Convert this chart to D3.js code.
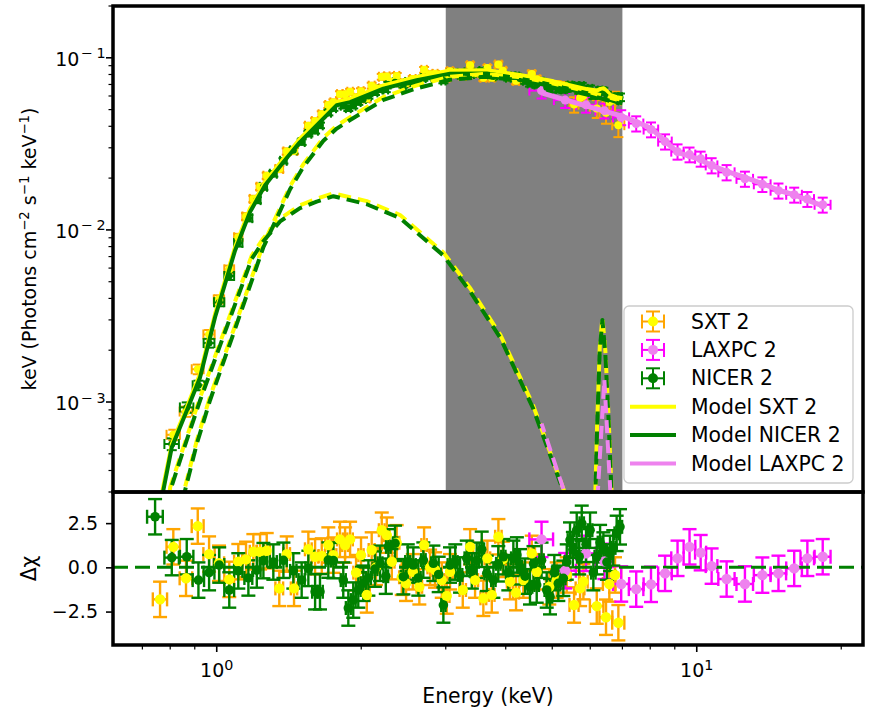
<!DOCTYPE html>
<html lang="en">
<head>
    <meta charset="UTF-8">
    <title>Spectrum with residuals</title>
    <script src="https://d3js.org/d3.v7.min.js"></script>
    <style>
        body {
            margin: 0;
            background-color: #ffffff;
        }
        svg text {
            font-family: 'DejaVu Sans', sans-serif;
            fill: #000000;
        }
    </style>
</head>
<body>
    <svg id="chart" width="872" height="710"></svg>
    <script>
        // ---- SXT data (keV, photons cm^-2 s^-1 keV^-1 x keV, delta chi) ----
        const sxtEnergy = [0.762, 0.812, 0.863, 0.913, 0.964, 1.011, 1.062, 1.109, 1.151, 1.192,
            1.231, 1.271, 1.35, 1.399, 1.449, 1.552, 1.603, 1.655, 1.708, 1.75,
            1.806, 1.851, 1.896, 1.951, 1.998, 2.054, 2.103, 2.147, 2.207, 2.261,
            2.316, 2.371, 2.429, 2.48, 2.561, 2.643, 2.704, 2.783, 2.85, 2.943,
            3.014, 3.062, 3.255, 3.372, 3.453, 3.593, 3.663, 3.741, 3.862, 3.944,
            4.083, 4.203, 4.353, 4.532, 4.641, 4.93, 5.108, 5.359, 5.552, 5.714,
            5.806, 6.19, 6.471, 6.575, 6.757, 6.866];
        const sxtEnergyErr = [0.026, 0.026, 0.026, 0.026, 0.026, 0.025, 0.025, 0.022, 0.02, 0.02,
            0.02, 0.02, 0.025, 0.022, 0.022, 0.025, 0.025, 0.025, 0.025, 0.025,
            0.025, 0.025, 0.025, 0.025, 0.025, 0.03, 0.03, 0.03, 0.03, 0.03,
            0.03, 0.03, 0.03, 0.03, 0.035, 0.035, 0.035, 0.035, 0.035, 0.04,
            0.04, 0.04, 0.05, 0.05, 0.05, 0.05, 0.05, 0.05, 0.06, 0.06,
            0.06, 0.06, 0.07, 0.07, 0.07, 0.08, 0.08, 0.1, 0.12, 0.12,
            0.12, 0.2, 0.2, 0.2, 0.2, 0.2];
        const sxtFlux = [2.4e-4, 6.45e-4, 8.8e-4, 1.55e-3, 2.47e-3, 3.95e-3, 5.9e-3, 9.06e-3, 0.01197, 0.01514,
            0.01782, 0.02065, 0.0226, 0.02857, 0.02877, 0.0403, 0.0429, 0.047, 0.0532, 0.0551,
            0.0615, 0.0614, 0.0635, 0.0589, 0.064, 0.058, 0.0689, 0.0665, 0.0776, 0.078,
            0.0726, 0.0785, 0.0713, 0.0711, 0.0753, 0.0731, 0.0851, 0.0803, 0.0807, 0.0794,
            0.0767, 0.0836, 0.0787, 0.0906, 0.0813, 0.0766, 0.0873, 0.0767, 0.0914, 0.0841,
            0.0773, 0.0735, 0.0753, 0.0804, 0.075, 0.0687, 0.0695, 0.0684, 0.0535, 0.0585,
            0.060, 0.0507, 0.0479, 0.0553, 0.0565, 0.0406];
        const sxtFluxErr = [2e-5, 4.5e-5, 6e-5, 1e-4, 1.5e-4, 2.2e-4, 3e-4, 4.3e-4, 5.5e-4, 6.5e-4,
            7.5e-4, 8.5e-4, 9.5e-4, 0.0012, 0.0012, 0.0016, 0.0017, 0.0019, 0.0021, 0.0022,
            0.0024, 0.0024, 0.0025, 0.0024, 0.0025, 0.0024, 0.0027, 0.0027, 0.003, 0.003,
            0.0029, 0.0031, 0.0029, 0.0029, 0.003, 0.003, 0.0033, 0.0032, 0.0032, 0.0032,
            0.0031, 0.0033, 0.0032, 0.0036, 0.0033, 0.0032, 0.0035, 0.0032, 0.0037, 0.0035,
            0.0033, 0.0033, 0.0035, 0.0037, 0.0036, 0.0036, 0.0038, 0.004, 0.0055, 0.006,
            0.006, 0.006, 0.0065, 0.007, 0.007, 0.006];
        const sxtResid = [-1.81, 1.16, -0.62, 2.33, 0.75, 0.23, -0.68, 0.32, 0.45, 0.88,
            0.88, 0.94, -1.19, 0.75, -1.19, 1.02, 0.6, 0.64, 1.26, 0.69,
            1.58, 1.26, 1.58, -0.3, 0.69, -1.56, 0.98, 0, 2.1, 1.82,
            0.32, 1.39, -0.56, -0.9, -0.25, -1.1, 1.26, 0, -0.15, -0.72,
            -1.62, -0.25, -1.28, 1.16, -0.72, -1.75, 0.51, -1.56, 1.73, 0.45,
            -0.81, -1.43, -0.72, 0.79, -0.25, -1.1, -0.72, -0.43, -2.13, -1.19,
            -0.81, -2.19, -2.82, -0.94, -0.43, -3.13];

        // ---- NICER data ----
        const nicerEnergy = [0.744, 0.806, 0.866, 0.916, 0.964, 1.012, 1.062, 1.109, 1.164, 1.212,
            1.251, 1.312, 1.377, 1.444, 1.503, 1.552, 1.603, 1.641, 1.708, 1.75,
            1.835, 1.88, 1.925, 1.972, 2.02, 2.07, 2.136, 2.189, 2.25, 2.278,
            2.352, 2.448, 2.5, 2.568, 2.63, 2.694, 2.827, 2.9, 2.966, 3.062,
            3.14, 3.213, 3.318, 3.4, 3.48, 3.565, 3.652, 3.77, 3.86, 3.955,
            4.05, 4.149, 4.22, 4.284, 4.39, 4.494, 4.57, 4.641, 4.75, 4.869,
            4.947, 5.05, 5.148, 5.273, 5.36, 5.445, 5.52, 5.623, 5.69, 5.76,
            5.88, 5.995, 6.09, 6.19, 6.29, 6.39, 6.5, 6.597, 6.7, 6.81,
            6.92];
        const nicerEnergyErr = [0.028, 0.028, 0.028, 0.025, 0.025, 0.025, 0.025, 0.022, 0.022, 0.022,
            0.022, 0.022, 0.022, 0.022, 0.022, 0.022, 0.022, 0.022, 0.022, 0.022,
            0.022, 0.022, 0.022, 0.022, 0.025, 0.025, 0.025, 0.025, 0.025, 0.025,
            0.025, 0.03, 0.03, 0.03, 0.03, 0.03, 0.03, 0.03, 0.03, 0.035,
            0.035, 0.035, 0.035, 0.035, 0.035, 0.04, 0.04, 0.04, 0.04, 0.04,
            0.045, 0.045, 0.045, 0.045, 0.045, 0.05, 0.05, 0.05, 0.05, 0.05,
            0.05, 0.055, 0.055, 0.055, 0.055, 0.06, 0.06, 0.06, 0.06, 0.06,
            0.065, 0.065, 0.065, 0.065, 0.07, 0.07, 0.07, 0.07, 0.07, 0.07,
            0.07];
        const nicerFlux = [2.6e-4, 5.7e-4, 9.3e-4, 1.25e-3, 2.2e-3, 3.8e-3, 5.4e-3, 8.4e-3, 0.0117, 0.0149,
            0.0178, 0.0212, 0.0252, 0.029, 0.0324, 0.0362, 0.0377, 0.0405, 0.048, 0.051,
            0.0527, 0.051, 0.0527, 0.0553, 0.0576, 0.0599, 0.063, 0.0655, 0.0655, 0.070,
            0.072, 0.0696, 0.0724, 0.0733, 0.0727, 0.0762, 0.0777, 0.0774, 0.0738, 0.0812,
            0.0817, 0.0797, 0.0823, 0.0805, 0.082, 0.0838, 0.080, 0.078, 0.0795, 0.0797,
            0.0767, 0.078, 0.0778, 0.0757, 0.0736, 0.071, 0.0735, 0.070, 0.0726, 0.0675,
            0.066, 0.0683, 0.066, 0.0656, 0.0668, 0.069, 0.0671, 0.0685, 0.0648, 0.0685,
            0.065, 0.066, 0.0607, 0.0622, 0.0645, 0.064, 0.0605, 0.058, 0.0585, 0.059,
            0.059];
        const nicerFluxErr = [2.5e-5, 4.5e-5, 6.5e-5, 8e-5, 1.3e-4, 2e-4, 2.8e-4, 4e-4, 5e-4, 6e-4,
            7e-4, 8e-4, 9e-4, 0.0011, 0.0012, 0.0013, 0.0014, 0.0015, 0.0017, 0.0018,
            0.0019, 0.0019, 0.0019, 0.002, 0.0021, 0.0021, 0.0022, 0.0023, 0.0023, 0.0024,
            0.0025, 0.0025, 0.0025, 0.0026, 0.0026, 0.0027, 0.0027, 0.0027, 0.0027, 0.0028,
            0.0028, 0.0028, 0.0029, 0.0029, 0.0029, 0.003, 0.003, 0.003, 0.003, 0.003,
            0.003, 0.003, 0.003, 0.003, 0.003, 0.003, 0.003, 0.003, 0.003, 0.003,
            0.003, 0.003, 0.003, 0.003, 0.003, 0.003, 0.003, 0.003, 0.003, 0.003,
            0.003, 0.003, 0.003, 0.003, 0.003, 0.003, 0.003, 0.003, 0.003, 0.003,
            0.003];
        const nicerResid = [2.86, 0.55, 0.6, -0.72, -0.3, 0.13, -1.28, -0.2, -0.6, -0.15,
            0.38, 0.3, 0.4, -0.2, -0.72, -0.06, -1.38, -1.38, 0.41, 0.38,
            -0.72, -2.3, -1.85, -1.28, -0.9, -0.6, -0.1, 0.23, -0.5, 1.16,
            1.36, -0.53, 0.3, 0.13, -0.6, 0.41, 0.23, -0.4, -2.13, 0.13,
            0.3, -0.43, 0.51, -0.2, 0.4, 1.02, -0.34, -0.72, 0.2, 0.6,
            -0.3, 0.51, 0.7, 0.03, -0.5, -1.1, 0.2, -1.0, 0.4, -1.28,
            -1.66, -0.3, -0.9, -0.62, 0.3, 1.54, 1.0, 2.1, 0.6, 2.49,
            1.3, 2.1, -0.3, 0.6, 1.4, 0.98, 0.3, 0.79, 1.1, 1.92,
            2.29];

        // ---- LAXPC data ----
        const laxpcEnergy = [4.75, 5.32, 5.88, 6.42, 6.96, 7.48, 8.03, 8.59, 9.12, 9.66,
            10.19, 10.74, 11.54, 12.6, 13.7, 14.8, 15.96, 17.0, 18.3];
        const laxpcEnergyErr = [0.27, 0.28, 0.28, 0.27, 0.27, 0.26, 0.28, 0.28, 0.27, 0.27,
            0.27, 0.3, 0.45, 0.5, 0.55, 0.55, 0.6, 0.55, 0.7];
        const laxpcFlux = [0.0645, 0.0568, 0.0533, 0.0493, 0.0451, 0.0415, 0.0383, 0.0326, 0.0285, 0.0274,
            0.0259, 0.0237, 0.0216, 0.0198, 0.0184, 0.0169, 0.016, 0.0151, 0.014];
        const laxpcFluxErr = [0.0065, 0.0057, 0.0053, 0.0049, 0.0045, 0.0042, 0.0038, 0.0033, 0.0029, 0.0027,
            0.0026, 0.0024, 0.0022, 0.002, 0.0018, 0.0017, 0.0016, 0.0015, 0.0014];
        const laxpcResid = [1.58, -0.19, 0.79, 0.34, -0.94, -1.23, -0.96, -0.34, 0.51, 1.16,
            0.83, 0.07, -0.66, -0.94, -0.44, -0.34, -0.06, 0.51, 0.6];

        // ---- total models ----
        const modelEnergy = [0.74, 0.774, 0.806, 0.866, 0.923, 0.992, 1.092, 1.173, 1.261, 1.377,
            1.491, 1.615, 1.778, 1.896, 2.225, 2.61, 3.062, 3.652, 4.284, 5.03,
            5.9, 6.2, 6.3, 6.4, 6.5, 6.6, 6.81, 7.0];
        const modelSxt = [1.7e-4, 3.25e-4, 5.7e-4, 9.3e-4, 1.46e-3, 3.25e-3, 7.95e-3, 0.0133, 0.019, 0.0259,
            0.0339, 0.0423, 0.0554, 0.0578, 0.0692, 0.0773, 0.0845, 0.0847, 0.0795, 0.073,
            0.0658, 0.0645, 0.066, 0.0666, 0.064, 0.0608, 0.059, 0.0582];
        const modelNicer = [1.6e-4, 3.07e-4, 5.45e-4, 8.9e-4, 1.39e-3, 3.11e-3, 7.6e-3, 0.0127, 0.0182, 0.0248,
            0.0324, 0.0405, 0.053, 0.0553, 0.0662, 0.074, 0.0809, 0.081, 0.0757, 0.0692,
            0.0619, 0.0605, 0.0618, 0.0624, 0.06, 0.057, 0.0553, 0.0545];
        const modelLaxpc = [0.0625, 0.057, 0.0525, 0.049, 0.046, 0.0425, 0.039, 0.0328, 0.0282, 0.0268,
            0.0255, 0.0237, 0.0219, 0.0202, 0.0186, 0.017, 0.016, 0.0149, 0.0138];

        // ---- model components (dashed) ----
        const compEnergyA = [0.84, 0.859, 0.909, 0.968, 1.083, 1.25, 1.421, 1.515, 1.668, 1.778,
            1.896, 2.225, 2.61, 3.06, 3.6, 4.3, 5.0, 5.9, 6.9];
        const compSxtA = [1.9e-4, 3.2e-4, 6.0e-4, 1.07e-3, 2.6e-3, 8.25e-3, 0.0179, 0.0241, 0.0343, 0.0403,
            0.0452, 0.0592, 0.0692, 0.0775, 0.0806, 0.0772, 0.0712, 0.0638, 0.0566];
        const compNicerA = [1.8e-4, 3.06e-4, 5.73e-4, 1.02e-3, 2.49e-3, 7.9e-3, 0.0172, 0.0232, 0.033, 0.0388,
            0.0435, 0.057, 0.0665, 0.0745, 0.0775, 0.0742, 0.0683, 0.0612, 0.0543];
        const compEnergyB = [0.78, 0.80, 0.852, 0.923, 1.049, 1.183, 1.251, 1.355, 1.491, 1.615,
            1.75, 2.054, 2.41, 2.966, 3.37, 3.9, 4.56, 5.28, 5.6];
        const compSxtB = [1.8e-4, 3.2e-4, 5.45e-4, 1.06e-3, 2.83e-3, 7.1e-3, 8.95e-3, 0.01165, 0.0139, 0.0152,
            0.0163, 0.0147, 0.0122, 0.0074, 0.0046, 0.00245, 0.00096, 0.00031, 0.00017];
        const compNicerB = [1.7e-4, 3.06e-4, 5.24e-4, 1.02e-3, 2.72e-3, 6.8e-3, 8.6e-3, 0.0112, 0.0134, 0.0146,
            0.0157, 0.0141, 0.0117, 0.0071, 0.0044, 0.00235, 0.00092, 0.0003, 0.00016];
        const gaussEnergy = [6.0, 6.1, 6.2, 6.28, 6.36, 6.45, 6.55, 6.64, 6.75];
        const gaussSxt = [2e-5, 1.25e-4, 7.3e-4, 2.1e-3, 3.1e-3, 2.0e-3, 8.3e-4, 3.2e-4, 6e-5];
        const gaussNicer = [2e-5, 1.2e-4, 7e-4, 2.0e-3, 3.0e-3, 1.9e-3, 8e-4, 3.1e-4, 6e-5];
        const laxpcCompEnergyB = [4.75, 5.32, 5.88];
        const laxpcCompB = [7.5e-4, 2.9e-4, 1.1e-4];
        const laxpcGaussEnergy = [5.88, 6.42, 6.96];
        const laxpcGauss = [2e-5, 1.35e-3, 2e-5];

        const yMajorTicks = [1e-3, 1e-2, 1e-1];
        const yMajorExp = ['3', '2', '1'];
        const xMajorTicks = [1, 10];
        const xMajorExp = ['0', '1'];
        const residTicks = [-2.5, 0, 2.5];

        // ---- layout ----
        const plotLeft = 113, plotRight = 863;
        const topY = 6, splitY = 492, bottomY = 645;
        const tickFont = 19, labelFont = 20.4;

        const colors = {
            orange: '#ffa500', yellow: '#ffff00', green: '#008000',
            magenta: '#ff00ff', violet: '#ee82ee', grey: '#808080'
        };

        const svg = d3.select('#chart');

        const x = d3.scaleLog().domain([0.608, 22.2]).range([plotLeft, plotRight]);
        const yFlux = d3.scaleLog().domain([3e-4, 0.2]).range([splitY, topY]);
        const yRes = d3.scaleLinear().domain([-4.39, 4.26]).range([bottomY, splitY]);

        const defs = svg.append('defs');
        defs.append('clipPath').attr('id', 'clip-top').append('rect')
            .attr('x', plotLeft).attr('y', topY)
            .attr('width', plotRight - plotLeft).attr('height', splitY - topY);
        defs.append('clipPath').attr('id', 'clip-bot').append('rect')
            .attr('x', plotLeft).attr('y', splitY)
            .attr('width', plotRight - plotLeft).attr('height', bottomY - splitY);

        const topG = svg.append('g').attr('clip-path', 'url(#clip-top)');
        const botG = svg.append('g').attr('clip-path', 'url(#clip-bot)');

        // grey band 3-7 keV
        topG.append('rect')
            .attr('x', x(3)).attr('y', topY)
            .attr('width', x(7) - x(3)).attr('height', splitY - topY)
            .attr('fill', colors.grey);

        // error bars with caps
        function errorBars(g, E, dE, V, dV, yScale, color, cap, width) {
            const idx = d3.range(E.length);
            const eb = g.append('g').attr('stroke', color).attr('stroke-width', width).attr('fill', 'none');
            eb.selectAll('line.v').data(idx).join('line').attr('class', 'v')
                .attr('x1', i => x(E[i])).attr('x2', i => x(E[i]))
                .attr('y1', i => yScale(V[i] - dV(i))).attr('y2', i => yScale(V[i] + dV(i)));
            eb.selectAll('line.h').data(idx).join('line').attr('class', 'h')
                .attr('x1', i => x(E[i] - dE[i])).attr('x2', i => x(E[i] + dE[i]))
                .attr('y1', i => yScale(V[i])).attr('y2', i => yScale(V[i]));
            [-1, 1].forEach(s => {
                eb.selectAll('line.cy' + (s + 1)).data(idx).join('line').attr('class', 'cy' + (s + 1))
                    .attr('x1', i => x(E[i]) - cap).attr('x2', i => x(E[i]) + cap)
                    .attr('y1', i => yScale(V[i] + s * dV(i))).attr('y2', i => yScale(V[i] + s * dV(i)));
                eb.selectAll('line.cx' + (s + 1)).data(idx).join('line').attr('class', 'cx' + (s + 1))
                    .attr('x1', i => x(E[i] + s * dE[i])).attr('x2', i => x(E[i] + s * dE[i]))
                    .attr('y1', i => yScale(V[i]) - cap).attr('y2', i => yScale(V[i]) + cap);
            });
        }

        function markers(g, E, V, yScale, fill, r) {
            g.append('g').selectAll('circle').data(d3.range(E.length)).join('circle')
                .attr('cx', i => x(E[i])).attr('cy', i => yScale(V[i]))
                .attr('r', r).attr('fill', fill);
        }

        // top panel data
        errorBars(topG, sxtEnergy, sxtEnergyErr, sxtFlux, i => sxtFluxErr[i], yFlux, colors.orange, 5, 2);
        errorBars(topG, laxpcEnergy, laxpcEnergyErr, laxpcFlux, i => laxpcFluxErr[i], yFlux, colors.magenta, 5, 2);
        errorBars(topG, nicerEnergy, nicerEnergyErr, nicerFlux, i => nicerFluxErr[i], yFlux, colors.green, 5, 2);
        markers(topG, sxtEnergy, sxtFlux, yFlux, colors.yellow, 4);
        markers(topG, laxpcEnergy, laxpcFlux, yFlux, colors.violet, 4.5);
        markers(topG, nicerEnergy, nicerFlux, yFlux, colors.green, 3.5);

        // models
        const fluxLine = d3.line().x(d => x(d[0])).y(d => yFlux(d[1]));
        function modelPath(E, F, color, width, dash, offset) {
            const p = topG.append('path').datum(d3.zip(E, F))
                .attr('d', fluxLine).attr('fill', 'none')
                .attr('stroke', color).attr('stroke-width', width)
                .attr('stroke-linejoin', 'round');
            if (dash) p.attr('stroke-dasharray', dash).attr('stroke-dashoffset', offset || 0);
        }
        modelPath(modelEnergy, modelSxt, colors.yellow, 4);
        modelPath(modelEnergy, modelNicer, colors.green, 4);
        modelPath(laxpcEnergy, modelLaxpc, colors.violet, 5);

        const dash = '13,7';
        modelPath(compEnergyA, compSxtA, colors.yellow, 4, dash, 0);
        modelPath(compEnergyB, compSxtB, colors.yellow, 4, dash, 0);
        modelPath(gaussEnergy, gaussSxt, colors.yellow, 4, dash, 0);
        modelPath(compEnergyA, compNicerA, colors.green, 4, dash, 10);
        modelPath(compEnergyB, compNicerB, colors.green, 4, dash, 10);
        modelPath(gaussEnergy, gaussNicer, colors.green, 4, dash, 10);
        modelPath(laxpcCompEnergyB, laxpcCompB, colors.violet, 4, dash, 4);
        modelPath(laxpcGaussEnergy, laxpcGauss, colors.violet, 4, dash, 4);

        // residual panel
        const one = () => 1;
        errorBars(botG, sxtEnergy, sxtEnergyErr, sxtResid, one, yRes, colors.orange, 7, 2.4);
        errorBars(botG, laxpcEnergy, laxpcEnergyErr, laxpcResid, one, yRes, colors.magenta, 7, 2.4);
        errorBars(botG, nicerEnergy, nicerEnergyErr, nicerResid, one, yRes, colors.green, 7, 2.4);
        botG.append('line')
            .attr('x1', plotLeft).attr('x2', plotRight)
            .attr('y1', yRes(0)).attr('y2', yRes(0))
            .attr('stroke', colors.green).attr('stroke-width', 3)
            .attr('stroke-dasharray', '15,7');
        markers(botG, sxtEnergy, sxtResid, yRes, colors.yellow, 5.2);
        markers(botG, laxpcEnergy, laxpcResid, yRes, colors.violet, 5.2);
        markers(botG, nicerEnergy, nicerResid, yRes, colors.green, 4.8);

        // ---- ticks ----
        const tickG = svg.append('g').attr('stroke', '#000');
        function powLabel(sel, exp, negative) {
            sel.append('tspan').text('10');
            if (negative) {
                sel.append('tspan').attr('dy', -7.5).attr('dx', 1.5).attr('font-size', 14.3).text('\u2212');
                sel.append('tspan').attr('dx', 3.5).attr('font-size', 14.3).text(exp);
            } else {
                sel.append('tspan').attr('dy', -7.5).attr('font-size', 14.3).text(exp);
            }
        }

        // top y axis (log)
        const yMinor = [];
        [-4, -3, -2, -1].forEach(e => {
            d3.range(2, 10).forEach(m => {
                const v = m * Math.pow(10, e);
                if (v >= 3e-4 * 0.999 && v <= 0.2 * 1.001) yMinor.push(v);
            });
        });
        tickG.selectAll('line.ymin').data(yMinor).join('line').attr('class', 'ymin')
            .attr('x1', plotLeft - 4.5).attr('x2', plotLeft)
            .attr('y1', d => yFlux(d)).attr('y2', d => yFlux(d)).attr('stroke-width', 1.2);
        tickG.selectAll('line.ymaj').data(yMajorTicks).join('line').attr('class', 'ymaj')
            .attr('x1', plotLeft - 7).attr('x2', plotLeft)
            .attr('y1', d => yFlux(d)).attr('y2', d => yFlux(d)).attr('stroke-width', 1.6);
        yMajorTicks.forEach((v, i) => {
            const t = svg.append('text')
                .attr('x', 105.5).attr('y', yFlux(v) + 8)
                .attr('text-anchor', 'end').attr('font-size', tickFont);
            powLabel(t, yMajorExp[i], true);
        });

        // residual y axis
        const resAxis = svg.append('g')
            .attr('transform', `translate(${plotLeft},0)`)
            .call(d3.axisLeft(yRes).tickValues(residTicks).tickFormat(d3.format('.1f'))
                .tickSize(7).tickPadding(8));
        resAxis.select('.domain').remove();
        resAxis.selectAll('line').attr('stroke', '#000').attr('stroke-width', 1.6);
        resAxis.selectAll('text').attr('font-size', tickFont)
            .attr('font-family', "'DejaVu Sans', sans-serif").attr('fill', '#000');

        // bottom x axis (log)
        const xMinor = [0.7, 0.8, 0.9, 2, 3, 4, 5, 6, 7, 8, 9, 20];
        tickG.selectAll('line.xmin').data(xMinor).join('line').attr('class', 'xmin')
            .attr('x1', d => x(d)).attr('x2', d => x(d))
            .attr('y1', bottomY).attr('y2', bottomY + 4.5).attr('stroke-width', 1.2);
        tickG.selectAll('line.xmaj').data(xMajorTicks).join('line').attr('class', 'xmaj')
            .attr('x1', d => x(d)).attr('x2', d => x(d))
            .attr('y1', bottomY).attr('y2', bottomY + 7).attr('stroke-width', 1.6);
        xMajorTicks.forEach((v, i) => {
            const t = svg.append('text')
                .attr('x', x(v)).attr('y', 677)
                .attr('text-anchor', 'middle').attr('font-size', tickFont);
            powLabel(t, xMajorExp[i], false);
        });

        // spines
        svg.append('rect')
            .attr('x', plotLeft).attr('y', topY)
            .attr('width', plotRight - plotLeft).attr('height', splitY - topY)
            .attr('fill', 'none').attr('stroke', '#000').attr('stroke-width', 3.5);
        svg.append('rect')
            .attr('x', plotLeft).attr('y', splitY)
            .attr('width', plotRight - plotLeft).attr('height', bottomY - splitY)
            .attr('fill', 'none').attr('stroke', '#000').attr('stroke-width', 3.5);

        // axis labels
        const yLab = svg.append('text')
            .attr('transform', `translate(36,${(topY + splitY) / 2}) rotate(-90)`)
            .attr('text-anchor', 'middle').attr('font-size', 19);
        yLab.append('tspan').text('keV (Photons cm');
        yLab.append('tspan').attr('dy', -7).attr('font-size', 13.3).text('\u22122');
        yLab.append('tspan').attr('dy', 7).text(' s');
        yLab.append('tspan').attr('dy', -7).attr('font-size', 13.3).text('\u22121');
        yLab.append('tspan').attr('dy', 7).text(' keV');
        yLab.append('tspan').attr('dy', -7).attr('font-size', 13.3).text('\u22121');
        yLab.append('tspan').attr('dy', 7).text(')');

        svg.append('text')
            .attr('transform', `translate(36,${(splitY + bottomY) / 2}) rotate(-90)`)
            .attr('text-anchor', 'middle').attr('font-size', labelFont)
            .text('\u0394\u03c7');

        svg.append('text')
            .attr('x', (plotLeft + plotRight) / 2).attr('y', 703)
            .attr('text-anchor', 'middle').attr('font-size', labelFont)
            .text('Energy (keV)');

        // ---- legend ----
        const legendItems = [
            { label: 'SXT 2', type: 'err', bar: colors.orange, mark: colors.yellow },
            { label: 'LAXPC 2', type: 'err', bar: colors.magenta, mark: colors.violet },
            { label: 'NICER 2', type: 'err', bar: colors.green, mark: colors.green },
            { label: 'Model SXT 2', type: 'line', bar: colors.yellow },
            { label: 'Model NICER 2', type: 'line', bar: colors.green },
            { label: 'Model LAXPC 2', type: 'line', bar: colors.violet }
        ];
        const legend = svg.append('g');
        legend.append('rect')
            .attr('x', 624).attr('y', 306).attr('width', 229).attr('height', 177)
            .attr('rx', 5).attr('fill', '#ffffff').attr('fill-opacity', 0.8)
            .attr('stroke', '#cccccc').attr('stroke-width', 1.3);
        legendItems.forEach((item, i) => {
            const cy = 321.5 + i * 28.4;
            const cx = 653;
            const g = legend.append('g');
            if (item.type === 'err') {
                const s = g.append('g').attr('stroke', item.bar).attr('stroke-width', 2);
                s.append('line').attr('x1', cx - 11).attr('x2', cx + 11).attr('y1', cy).attr('y2', cy);
                s.append('line').attr('x1', cx).attr('x2', cx).attr('y1', cy - 10).attr('y2', cy + 10);
                s.append('line').attr('x1', cx - 7).attr('x2', cx + 7).attr('y1', cy - 10).attr('y2', cy - 10);
                s.append('line').attr('x1', cx - 7).attr('x2', cx + 7).attr('y1', cy + 10).attr('y2', cy + 10);
                s.append('line').attr('x1', cx - 11).attr('x2', cx - 11).attr('y1', cy - 7).attr('y2', cy + 7);
                s.append('line').attr('x1', cx + 11).attr('x2', cx + 11).attr('y1', cy - 7).attr('y2', cy + 7);
                g.append('circle').attr('cx', cx).attr('cy', cy).attr('r', 5).attr('fill', item.mark);
            } else {
                g.append('line').attr('x1', 630).attr('x2', 676).attr('y1', cy).attr('y2', cy)
                    .attr('stroke', item.bar).attr('stroke-width', 4);
            }
            g.append('text').attr('x', 691).attr('y', cy + 7)
                .attr('font-size', labelFont).text(item.label);
        });
    </script>
</body>
</html>
